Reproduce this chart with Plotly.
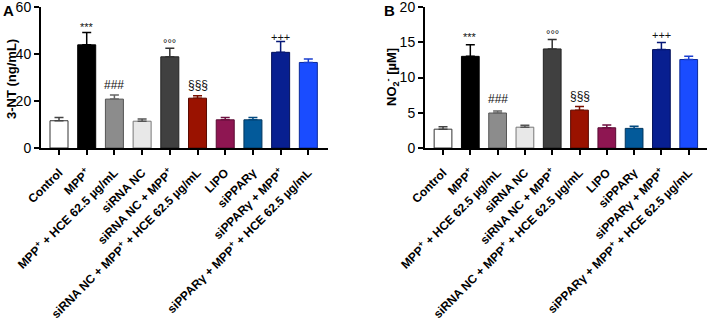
import plotly.graph_objects as go

categories = [
    "Control",
    "MPP<sup>+</sup>",
    "MPP<sup>+</sup> + HCE 62.5 µg/mL",
    "siRNA NC",
    "siRNA NC + MPP<sup>+</sup>",
    "siRNA NC + MPP<sup>+</sup> + HCE 62.5 µg/mL",
    "LIPO",
    "siPPARγ",
    "siPPARγ + MPP<sup>+</sup>",
    "siPPARγ + MPP<sup>+</sup> + HCE 62.5 µg/mL",
]
nt_values = [11.6, 43.9, 20.8, 11.4, 38.8, 21.2, 12.0, 12.0, 40.7, 36.4]
nt_errors = [1.4, 5.3, 1.8, 0.9, 3.6, 1.0, 1.0, 1.0, 4.6, 1.5]
no2_values = [2.67, 13.0, 4.96, 2.95, 14.05, 5.37, 2.87, 2.78, 13.96, 12.55]
no2_errors = [0.33, 1.66, 0.29, 0.28, 1.35, 0.53, 0.38, 0.29, 0.99, 0.45]
fill_colors = ["#ffffff", "#000000", "#8c8c8c", "#e8e8e8", "#404040",
               "#9a1200", "#8e1652", "#035a9a", "#081f90", "#1a4cff"]
line_colors = ["#333333", "#000000", "#555555", "#777777", "#222222",
               "#5a0a00", "#5a0c33", "#02365e", "#04115a", "#0c2a99"]
err_colors = ["#444444", "#000000", "#666666", "#555555", "#333333",
              "#7a1000", "#6e1040", "#024a80", "#061878", "#1a3fd0"]

marks_a = ["", "***", "###", "", "°°°", "§§§", "", "", "+++", ""]
marks_a_y = [0, 51.6, 26.8, 0, 44.8, 26.6, 0, 0, 47.4, 0]
marks_b = ["", "***", "###", "", "°°°", "§§§", "", "", "+++", ""]
marks_b_y = [0, 15.7, 6.9, 0, 16.2, 7.4, 0, 0, 16.0, 0]
mark_sizes = [11, 11, 12, 11, 11, 12, 11, 11, 11, 11]

FONT = "Liberation Sans, Arial, sans-serif"
idx = list(range(len(categories)))
W, H = 709, 327

fig = go.Figure()

def add_panel(vals, errs, xa, ya):
    for i in idx:
        fig.add_trace(go.Bar(
            x=[i], y=[vals[i]], width=0.65,
            marker=dict(color=fill_colors[i], line=dict(color=line_colors[i], width=1)),
            error_y=dict(type="data", array=[errs[i]], arrayminus=[0], symmetric=False,
                         color=err_colors[i], thickness=1.5, width=4.5),
            xaxis=xa, yaxis=ya, showlegend=False, hoverinfo="skip",
        ))

add_panel(nt_values, nt_errors, "x", "y")
add_panel(no2_values, no2_errors, "x2", "y2")

annotations = []
for i in idx:
    if marks_a[i]:
        annotations.append(dict(x=i, y=marks_a_y[i], xref="x", yref="y", text=marks_a[i],
                                showarrow=False, xanchor="center", yanchor="middle",
                                font=dict(family=FONT, size=mark_sizes[i], color="#111")))
    if marks_b[i]:
        annotations.append(dict(x=i, y=marks_b_y[i], xref="x2", yref="y2", text=marks_b[i],
                                showarrow=False, xanchor="center", yanchor="middle",
                                font=dict(family=FONT, size=mark_sizes[i], color="#111")))

def px_ann(x, y, text, size, angle=0):
    return dict(x=x / W, y=1 - y / H, xref="paper", yref="paper", text=text,
                showarrow=False, xanchor="center", yanchor="middle", textangle=angle,
                font=dict(family=FONT, size=size, color="#000"))

annotations += [
    px_ann(8, 11, "<b>A</b>", 15),
    px_ann(389, 11, "<b>B</b>", 15),
    px_ann(11, 79, "<b>3-NT (ng/mL)</b>", 13, -90),
    px_ann(392, 77, "<b>NO<sub>2</sub><sup>-</sup> [µM]</b>", 13, -90),
]

xcommon = dict(
    tickmode="array", tickvals=idx, ticktext=[f"<b>{c}</b>" for c in categories],
    tickangle=-45, ticks="outside", ticklen=5, tickwidth=2, tickcolor="#000",
    showline=True, linewidth=2, linecolor="#000", showgrid=False, zeroline=False,
    tickfont=dict(family=FONT, size=12, color="#000"), fixedrange=True, automargin=False,
    ticklabelstandoff=6, ticklabeloverflow="allow",
)
ycommon = dict(
    ticks="outside", ticklen=5, tickwidth=2, tickcolor="#000",
    showline=True, linewidth=2, linecolor="#000", showgrid=False, zeroline=False,
    tickfont=dict(family=FONT, size=14, color="#000"), tickprefix="<b>", ticksuffix="</b>",
    automargin=False, ticklabeloverflow="allow",
)
ydom = [(H - 148) / H, (H - 7) / H]

fig.update_layout(
    template="none",
    width=W, height=H, margin=dict(l=0, r=0, t=0, b=0, pad=0),
    paper_bgcolor="white", plot_bgcolor="white", barmode="overlay",
    xaxis=dict(domain=[41 / W, 328 / W], range=[-0.65, 9.71], anchor="y", **xcommon),
    yaxis=dict(domain=ydom, range=[0, 60], tickvals=[0, 20, 40, 60], anchor="x", **ycommon),
    xaxis2=dict(domain=[425 / W, 707 / W], range=[-0.66, 9.67], anchor="y2", **xcommon),
    yaxis2=dict(domain=ydom, range=[0, 20], tickvals=[0, 5, 10, 15, 20], anchor="x2", **ycommon),
    annotations=annotations,
)

fig.write_html("out.html")
